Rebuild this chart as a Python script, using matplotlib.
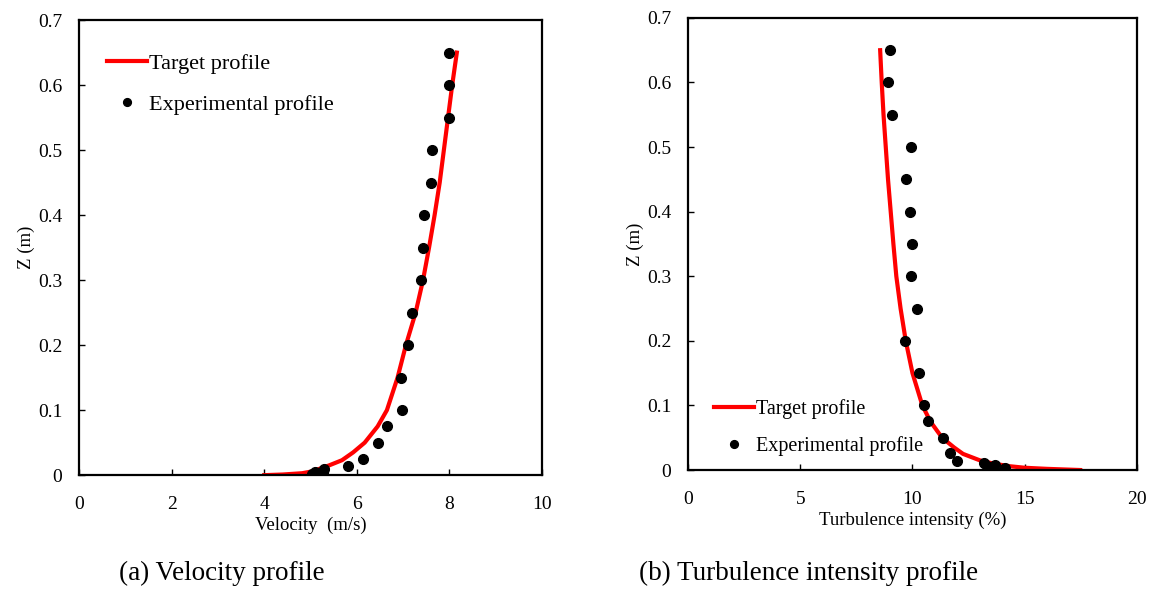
import matplotlib.pyplot as plt

plt.rcParams["font.family"] = ["Liberation Serif", "DejaVu Serif"]

# (a) velocity profile
vel_target_u = [4.0, 4.4, 4.82, 5.05, 5.2, 5.4, 5.68, 5.92, 6.17, 6.45, 6.65, 6.88,
                7.06, 7.27, 7.43, 7.56, 7.68, 7.79, 7.88, 7.97, 8.06, 8.16]
vel_target_z = [0.0, 0.001, 0.003, 0.006, 0.01, 0.015, 0.023, 0.035, 0.05, 0.075, 0.1, 0.15,
                0.2, 0.25, 0.3, 0.35, 0.4, 0.45, 0.5, 0.55, 0.6, 0.65]
vel_exp_u = [8.0, 8.0, 7.99, 7.63, 7.61, 7.45, 7.42, 7.38, 7.2, 7.1, 6.95, 6.97,
             6.65, 6.45, 6.14, 5.81, 5.3, 5.28, 5.03, 5.1]
vel_exp_z = [0.65, 0.60, 0.55, 0.50, 0.45, 0.40, 0.35, 0.30, 0.25, 0.20, 0.15, 0.10,
             0.075, 0.05, 0.025, 0.014, 0.01, 0.004, 0.002, 0.005]

# (b) turbulence intensity profile
ti_target = [8.56, 8.63, 8.71, 8.81, 8.91, 9.03, 9.15, 9.28, 9.47, 9.7, 10.0, 10.44,
             10.8, 11.32, 11.85, 12.25, 13.0, 13.6, 14.3, 15.0, 16.0, 17.47]
ti_target_z = [0.65, 0.6, 0.55, 0.5, 0.45, 0.4, 0.35, 0.3, 0.25, 0.2, 0.15, 0.1,
               0.075, 0.05, 0.035, 0.025, 0.015, 0.01, 0.006, 0.0035, 0.0018, 0.0]
ti_exp = [9.0, 8.92, 9.1, 9.92, 9.72, 9.87, 9.96, 9.92, 10.19, 9.67, 10.29, 10.51,
          10.7, 11.37, 11.65, 11.99, 13.18, 13.67, 13.44, 14.14, 13.3]
ti_exp_z = [0.65, 0.60, 0.55, 0.50, 0.45, 0.40, 0.35, 0.30, 0.25, 0.20, 0.15, 0.10,
            0.076, 0.05, 0.026, 0.014, 0.011, 0.008, 0.003, 0.003, 0.006]

fig = plt.figure(figsize=(11.53, 5.91), dpi=100)
ax1 = fig.add_axes([0.0685, 0.196, 0.4016, 0.770])
ax2 = fig.add_axes([0.5967, 0.2047, 0.3894, 0.765])


def style(ax, xmax, xstep):
    ax.set_xlim(0, xmax)
    ax.set_ylim(0, 0.7)
    ax.set_xticks(range(0, xmax + 1, xstep))
    ax.set_yticks([i / 10 for i in range(8)])
    ax.set_yticklabels(["0"] + [f"{i / 10:.1f}" for i in range(1, 8)])
    ax.tick_params(direction="in", length=4, width=1, labelsize=14)
    ax.tick_params(axis="x", pad=15)
    ax.tick_params(axis="y", pad=12)
    for s in ax.spines.values():
        s.set_linewidth(1.6)
    ax.set_ylabel("Z (m)", fontsize=13.5, labelpad=2)


ax1.plot(vel_target_u, vel_target_z, color="red", lw=3, label="Target profile")
ax1.plot(vel_exp_u, vel_exp_z, "o", color="black", ms=7, label="Experimental profile")
style(ax1, 10, 2)
ax1.set_xlabel("Velocity  (m/s)", fontsize=13.5, labelpad=3)
ax1.legend(loc="upper left", bbox_to_anchor=(0.012, 0.975), frameon=False, fontsize=16,
           handlelength=1.8, handletextpad=0.1, labelspacing=0.9, markerscale=0.8,
           borderaxespad=0.6)

ax2.plot(ti_target, ti_target_z, color="red", lw=3, label="Target profile")
ax2.plot(ti_exp, ti_exp_z, "o", color="black", ms=7, label="Experimental profile")
style(ax2, 20, 5)
ax2.set_xlabel("Turbulence intensity (%)", fontsize=13.5, labelpad=3)
ax2.legend(loc="lower left", bbox_to_anchor=(0.012, -0.013), frameon=False, fontsize=14.5,
           handlelength=2.0, handletextpad=0.1, labelspacing=0.85, markerscale=0.8,
           borderaxespad=0.6)

fig.text(0.192, 0.019, "(a) Velocity profile", fontsize=19.5, ha="center", va="baseline")
fig.text(0.7017, 0.019, "(b) Turbulence intensity profile", fontsize=19.5, ha="center",
         va="baseline")

fig.savefig("out.png", dpi=100)
